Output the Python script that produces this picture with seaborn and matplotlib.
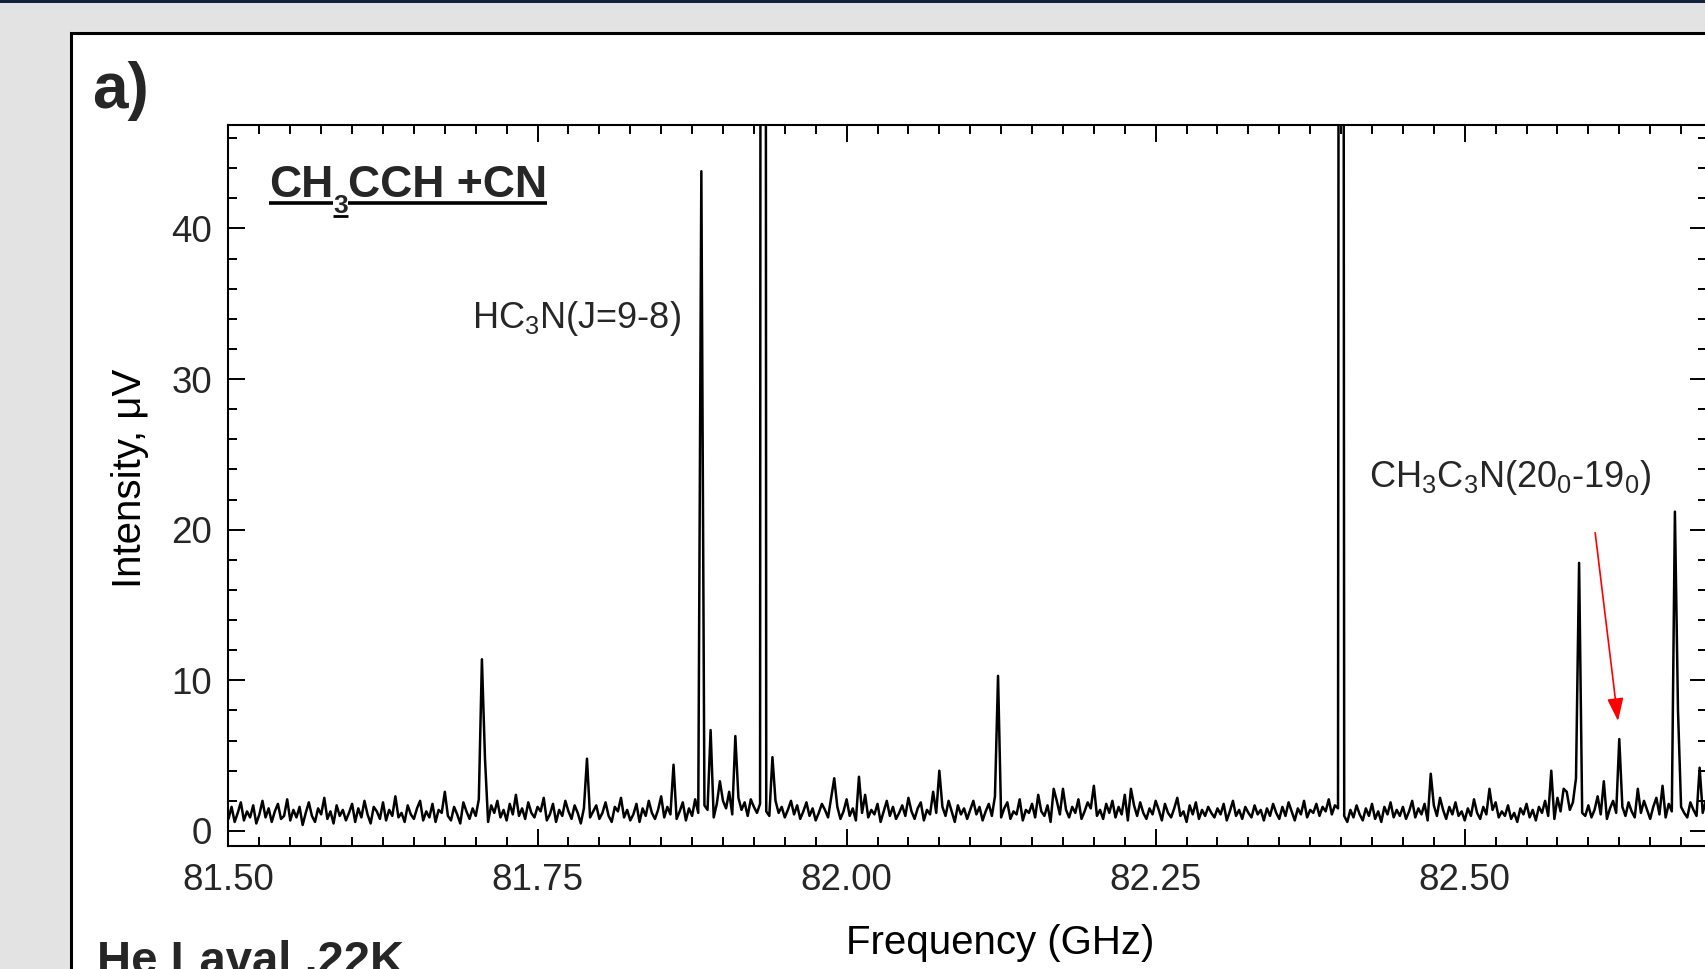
import numpy as np
import pandas as pd
import matplotlib
matplotlib.use('Agg')
import matplotlib.pyplot as plt
from matplotlib.patches import Rectangle
from matplotlib.ticker import MultipleLocator
import seaborn as sns

# sampling of the spectrum (GHz)
freq_start = 81.4975
freq_step = 0.0025

# baseline noise (uV), one value per sample
baseline = [
    1.4, 0.8, 1.6, 0.6, 1.2, 1.9, 0.7, 1.3, 0.9, 1.7, 0.5, 1.1, 2.0, 0.9, 1.5, 0.6, 1.3, 1.8, 0.8, 1.0,
    2.1, 0.7, 1.4, 0.9, 1.6, 0.4, 1.2, 1.9, 1.0, 0.6, 1.5, 1.1, 2.2, 0.8, 1.3, 0.5, 1.7, 1.0, 1.4, 0.7,
    1.2, 1.8, 0.6, 1.5, 0.9, 2.0, 1.1, 0.5, 1.6, 1.3, 0.8, 1.9, 0.7, 1.4, 1.0, 2.3, 0.9, 1.2, 0.6, 1.7,
    1.1, 0.8, 1.5, 2.0, 0.7, 1.3, 0.9, 1.8, 0.6, 1.4, 1.2, 2.6, 1.0, 0.7, 1.6, 1.1, 0.5, 1.9, 1.3, 0.8,
    1.5, 1.0, 2.1, 0.8, 1.3, 0.6, 1.7, 1.2, 2.0, 0.9, 1.4, 0.7, 1.8, 1.1, 2.4, 1.0, 1.5, 0.8, 1.9, 1.2,
    0.9, 1.6, 1.3, 2.2, 0.7, 1.1, 1.8, 0.6, 1.4, 1.0, 2.0, 1.3, 0.8, 1.7, 1.2, 0.5, 1.5, 2.1, 0.9, 1.3,
    1.7, 0.8, 1.2, 1.9, 1.0, 0.6, 1.6, 1.3, 2.2, 0.9, 1.4, 0.7, 1.1, 1.8, 0.6, 1.5, 1.0, 2.0, 1.2, 0.8,
    1.4, 2.3, 0.9, 1.6, 1.1, 2.5, 0.8, 1.3, 1.9, 0.7, 1.5, 1.0, 2.1, 1.2, 0.6, 1.7, 1.4, 2.4, 0.9, 1.8,
    1.2, 2.0, 1.5, 2.6, 1.1, 1.8, 2.2, 1.4, 1.9, 1.0, 2.1, 1.6, 1.2, 1.8, 2.3, 1.3, 1.0, 1.7, 2.0, 1.2,
    1.6, 0.9, 1.4, 2.0, 1.1, 1.7, 0.8, 1.3, 1.9, 1.0, 1.5, 0.7, 1.2, 1.8, 1.4, 0.9, 2.2, 1.1, 1.6, 0.8,
    1.3, 2.1, 1.0, 1.5, 0.7, 1.9, 1.2, 2.4, 0.9, 1.4, 1.1, 1.8, 0.6, 1.3, 2.0, 1.0, 1.6, 0.8, 1.2, 1.7,
    1.0, 2.2, 1.3, 0.8, 1.5, 1.9, 0.7, 1.4, 1.1, 2.6, 1.2, 0.9, 1.6, 1.0, 2.0, 1.3, 0.6, 1.7, 1.1, 1.5,
    0.8, 1.4, 2.0, 1.1, 1.6, 0.7, 1.3, 1.8, 1.0, 2.3, 1.2, 0.9, 1.5, 1.9, 0.8, 1.3, 1.1, 2.1, 0.7, 1.4,
    1.2, 1.8, 0.9, 2.4, 1.3, 1.0, 1.7, 0.6, 1.5, 2.0, 1.1, 2.8, 1.4, 0.9, 1.6, 1.2, 2.1, 0.8, 1.3, 1.9,
    1.5, 2.3, 1.0, 1.4, 0.8, 1.8, 1.2, 2.0, 0.9, 1.6, 1.1, 2.4, 0.7, 1.3, 1.7, 1.0, 1.9, 1.2, 0.8, 1.5,
    1.1, 2.0, 1.4, 0.7, 1.8, 1.2, 0.9, 1.5, 2.2, 1.0, 1.3, 0.6, 1.7, 1.1, 1.9, 0.8, 1.4, 1.0, 1.6, 1.2,
    0.9, 1.5, 1.1, 1.8, 0.7, 1.3, 2.0, 1.0, 1.4, 0.8, 1.6, 1.2, 0.9, 1.7, 1.1, 1.4, 0.7, 1.5, 1.0, 1.8,
    1.2, 0.8, 1.6, 1.0, 1.9, 1.3, 0.7, 1.5, 1.1, 2.0, 0.9, 1.4, 1.2, 1.8, 1.0, 1.6, 1.3, 2.1, 1.1, 1.7,
    1.5, 1.2, 1.0, 0.6, 1.4, 0.9, 1.7, 1.1, 0.7, 1.5, 1.0, 1.8, 0.8, 1.3, 0.6, 1.6, 1.1, 1.9, 0.9, 1.4,
    1.0, 1.6, 0.8, 1.3, 2.0, 0.9, 1.5, 1.1, 1.8, 0.7, 1.2, 1.7, 1.0, 2.2, 1.4, 0.8, 1.6, 1.1, 1.9, 1.0,
    1.3, 0.7, 1.5, 1.0, 2.1, 1.2, 0.8, 1.6, 1.1, 0.6, 1.4, 1.9, 0.9, 1.3, 1.0, 1.7, 0.8, 1.2, 0.6, 1.5,
    1.1, 1.8, 0.9, 1.4, 0.7, 1.6, 1.2, 2.0, 1.0, 1.5, 0.8, 2.2, 1.3, 1.0, 2.6, 1.4, 1.9, 3.5, 1.6, 1.2,
    1.0, 1.7, 0.9, 1.4, 2.3, 1.1, 1.8, 0.8, 1.5, 2.0, 1.2, 0.7, 1.6, 1.0, 1.9, 1.3, 0.9, 1.7, 1.2, 2.0,
    1.4, 0.8, 1.6, 2.2, 1.1, 1.5, 0.9, 1.8, 1.3, 2.4, 1.0, 1.6, 1.2, 0.9, 1.9, 1.4, 1.0, 1.7, 1.2, 2.0,
    1.3,
]

# lines in the spectrum: position (GHz) and peak height (uV)
peak_freq = [81.7049, 81.7075, 81.7911, 81.8597, 81.8817, 81.8905, 81.8967, 81.9099,
             81.9323, 81.9405, 81.9908, 82.0110, 82.0752, 82.1227, 82.1667, 82.2001,
             82.2309, 82.4006, 82.4736, 82.5193, 82.5704, 82.5800, 82.5890, 82.5915,
             82.6135, 82.6249, 82.6398, 82.6601, 82.6706, 82.6731, 82.6900]
peak_height = [11.4, 4.8, 4.8, 4.4, 43.8, 6.7, 3.3, 6.3,
               400, 4.9, 3.5, 3.6, 4.0, 10.3, 2.8, 3.0,
               2.8, 300, 3.8, 2.8, 4.0, 2.8, 3.5, 17.8,
               3.3, 6.1, 2.8, 3.0, 21.2, 8.0, 4.2]

x_ticks = [81.50, 81.75, 82.00, 82.25, 82.50]
y_ticks = [0, 10, 20, 30, 40]

# underlined title: (text, size, baseline y, underline y)
title_parts = [('CH', 32, 42.1, 41.72), ('3', 19, 41.0, 40.8), ('CCH +CN', 32, 42.1, 41.72)]

sns.set_theme(style='white')
plt.rcParams['font.family'] = ['Liberation Sans', 'DejaVu Sans']
plt.rcParams['mathtext.fontset'] = 'custom'
plt.rcParams['mathtext.rm'] = 'Liberation Sans'
plt.rcParams['mathtext.it'] = 'Liberation Sans'
plt.rcParams['mathtext.bf'] = 'Liberation Sans:bold'

freq = freq_start + freq_step * np.arange(len(baseline))
intensity = np.array(baseline, dtype=float)
for f, h in zip(peak_freq, peak_height):
    intensity[np.abs(freq - f).argmin()] = h
spec = pd.DataFrame({'freq': freq, 'intensity': intensity})

fig = plt.figure(figsize=(17.05, 9.69), dpi=100, facecolor='#e3e3e3')
# white panel and dark top strip
fig.add_artist(Rectangle((0.0416, -0.2), 1.2, 1.1659, transform=fig.transFigure,
                         facecolor='white', edgecolor='black', lw=2.2, zorder=-2))
fig.add_artist(Rectangle((0, 0.9965), 1, 0.01, transform=fig.transFigure,
                         facecolor='#13233a', edgecolor='none', zorder=-1))

ax = fig.add_axes([0.134, 0.1269, 0.8672, 0.7441])
ax.set_facecolor('white')
sns.lineplot(data=spec, x='freq', y='intensity', color='black', linewidth=1.8,
             estimator=None, ax=ax)

ax.set_xlim(81.5, 82.696)
ax.set_ylim(-1.0, 46.87)
ax.set_xticks(x_ticks)
ax.set_xticklabels([f'{v:.2f}' for v in x_ticks])
ax.set_yticks(y_ticks)
ax.xaxis.set_minor_locator(MultipleLocator(0.025))
ax.yaxis.set_minor_locator(MultipleLocator(2))
ax.tick_params(which='both', direction='in', top=True, right=True, bottom=True, left=True,
               width=1.4, color='black')
ax.tick_params(which='major', length=12, labelsize=26.5, pad=12)
ax.tick_params(which='minor', length=6.5)
for s in ax.spines.values():
    s.set_color('black')
    s.set_linewidth(1.5)

ax.set_xlabel('Frequency (GHz)', fontsize=29, color='black')
ax.xaxis.set_label_coords(0.522, -0.108)
ax.set_ylabel('Intensity, μV', fontsize=29, color='black')
ax.yaxis.set_label_coords(-0.054, 0.51)

ax.text(81.697, 34.0, r'HC$_3$N(J=9-8)', fontsize=26, va='center', ha='left')
ax.text(82.4226, 23.5, r'CH$_3$C$_3$N(20$_0$-19$_0$)', fontsize=26, va='center', ha='left')
ax.annotate('', xy=(82.624, 7.3), xytext=(82.6055, 19.8),
            arrowprops=dict(arrowstyle='-|>,head_length=0.7,head_width=0.25', color='red',
                            lw=1.2, shrinkA=0, shrinkB=0, mutation_scale=20))

# title written piece by piece so each part gets its own underline
fig.canvas.draw()
r = fig.canvas.get_renderer()
x = 81.5328
for txt, size, y, uy in title_parts:
    t = ax.text(x, y, txt, fontsize=size, fontweight='bold', ha='left', va='baseline', zorder=4)
    bb = t.get_window_extent(r).transformed(ax.transData.inverted())
    ax.plot([bb.x0, bb.x1], [uy, uy], color='black', lw=2.6 if size > 20 else 2.0,
            solid_capstyle='butt', zorder=3)
    x = bb.x1

fig.text(92 / 1705, 1 - 108 / 969, 'a)', fontsize=46, fontweight='bold', ha='left', va='baseline')
fig.text(97 / 1705, -0.0052, 'He Laval ,22K', fontsize=34, fontweight='bold', ha='left', va='baseline')

fig.savefig('out.png', dpi=100, facecolor=fig.get_facecolor())
